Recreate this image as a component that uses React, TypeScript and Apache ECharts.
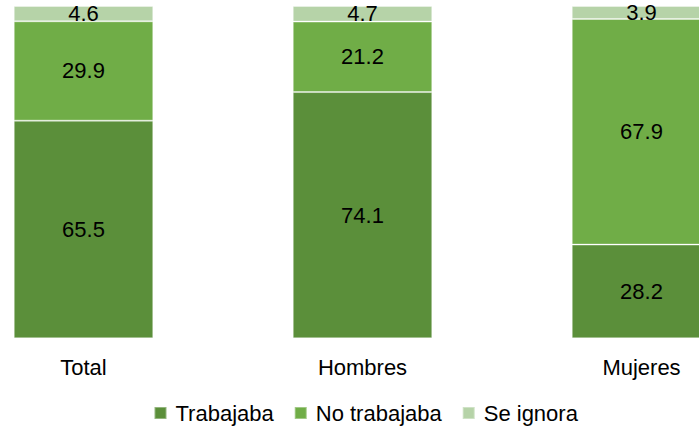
import React, { useEffect, useRef } from "react";
import * as echarts from "echarts";

const categories = ["Total", "Hombres", "Mujeres"];
const trabajaba = [65.5, 74.1, 28.2];
const noTrabajaba = [29.9, 21.2, 67.9];
const seIgnora = [4.6, 4.7, 3.9];

const FONT = "'Liberation Sans', Arial, sans-serif";
const OFFSET = 56.5;

export default function App() {
  const ref = useRef<HTMLDivElement>(null);
  useEffect(() => {
    const chart = echarts.init(ref.current!, null, { renderer: "svg" });
    const mk = (name: string, data: number[], color: string) => ({
      name,
      type: "bar",
      stack: "s",
      data,
      barWidth: 139.5,
      itemStyle: { color, borderColor: "rgba(255,255,255,0.35)", borderWidth: 1 },
      label: {
        show: true,
        position: "inside",
        color: "#000",
        fontFamily: FONT,
        fontSize: 22,
        formatter: (p: any) => p.value.toFixed(1),
      },
    });
    chart.setOption({
      animation: false,
      textStyle: { fontFamily: FONT },
      grid: { left: 0, right: 0, top: 6, bottom: 90.7, containLabel: false },
      legend: {
        left: 148 + OFFSET,
        top: 397,
        itemWidth: 12,
        itemHeight: 12,
        itemGap: 20,
        icon: "rect",
        textStyle: { fontFamily: FONT, fontSize: 22, color: "#000", padding: [0, 0, 0, 4] },
        data: ["Trabajaba", "No trabajaba", "Se ignora"],
      },
      xAxis: {
        type: "category",
        data: categories,
        axisLine: { show: false },
        axisTick: { show: false },
        axisLabel: { margin: 18, fontFamily: FONT, fontSize: 22, color: "#000" },
      },
      yAxis: { type: "value", min: 0, max: 100, show: false, splitLine: { show: false } },
      series: [
        mk("Trabajaba", trabajaba, "#5B8F3A"),
        mk("No trabajaba", noTrabajaba, "#70AD47"),
        mk("Se ignora", seIgnora, "#B6D3A8"),
      ],
    });
    return () => chart.dispose();
  }, []);
  return (
    <div style={{ width: 699, height: 429, position: "absolute", left: 0, top: 0, overflow: "hidden" }}>
      <div ref={ref} style={{ width: 837, height: 429, position: "absolute", left: -OFFSET, top: 0 }} />
    </div>
  );
}
